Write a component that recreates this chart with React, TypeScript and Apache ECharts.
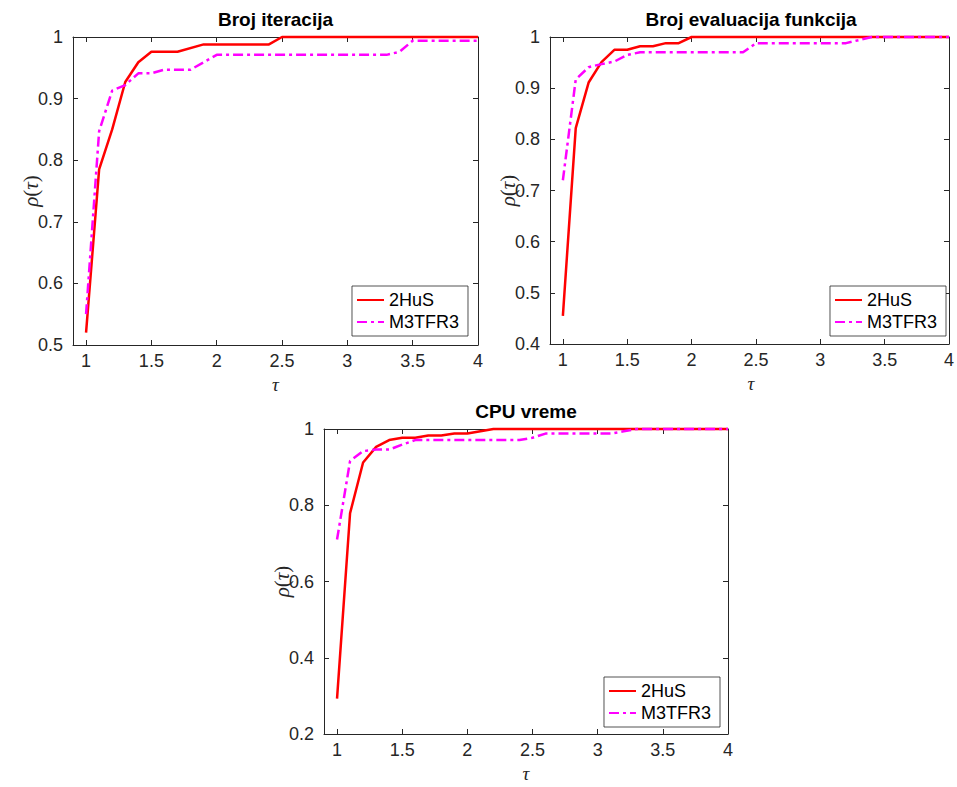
import React, { useEffect, useRef } from "react";
import * as echarts from "echarts";

// ---- data ----
const xTicks = [1, 1.5, 2, 2.5, 3, 3.5, 4];
const seriesNames = ["2HuS", "M3TFR3"];
const titles = ["Broj iteracija", "Broj evaluacija funkcija", "CPU vreme"];

// Chart 1: Broj iteracija
const iterHuSTau = [1, 1.1, 1.2, 1.3, 1.4, 1.5, 1.7, 1.9, 2.4, 2.5, 4];
const iterHuSVal = [0.52, 0.785, 0.85, 0.927, 0.959, 0.976, 0.976, 0.988, 0.988, 1, 1];
const iterM3Tau = [1, 1.1, 1.2, 1.3, 1.4, 1.5, 1.6, 1.8, 2.0, 3.3, 3.4, 3.5, 4];
const iterM3Val = [0.55, 0.847, 0.913, 0.922, 0.941, 0.941, 0.947, 0.947, 0.971, 0.971, 0.976, 0.994, 0.994];

// Chart 2: Broj evaluacija funkcija
const evalHuSTau = [1, 1.1, 1.2, 1.3, 1.4, 1.5, 1.6, 1.7, 1.8, 1.9, 2.0, 4];
const evalHuSVal = [0.455, 0.822, 0.911, 0.951, 0.975, 0.975, 0.982, 0.982, 0.988, 0.988, 1, 1];
const evalM3Tau = [1, 1.1, 1.2, 1.3, 1.4, 1.5, 1.6, 2.4, 2.5, 3.2, 3.3, 3.4, 4];
const evalM3Val = [0.72, 0.917, 0.941, 0.947, 0.952, 0.965, 0.97, 0.97, 0.988, 0.988, 0.994, 1, 1];

// Chart 3: CPU vreme
const cpuHuSTau = [1, 1.1, 1.2, 1.3, 1.4, 1.5, 1.6, 1.7, 1.8, 1.9, 2.0, 2.1, 2.2, 4];
const cpuHuSVal = [0.293, 0.779, 0.912, 0.953, 0.971, 0.977, 0.977, 0.983, 0.983, 0.988, 0.988, 0.994, 1, 1];
const cpuM3Tau = [1, 1.1, 1.2, 1.3, 1.4, 1.5, 1.6, 2.4, 2.5, 2.6, 3.1, 3.2, 3.3, 4];
const cpuM3Val = [0.71, 0.916, 0.942, 0.946, 0.946, 0.959, 0.971, 0.971, 0.977, 0.988, 0.988, 0.994, 1, 1];

const yMins = [0.5, 0.4, 0.2];
const yIntervals = [0.1, 0.1, 0.2];

const panels = [
  { huS: [iterHuSTau, iterHuSVal], m3: [iterM3Tau, iterM3Val] },
  { huS: [evalHuSTau, evalHuSVal], m3: [evalM3Tau, evalM3Val] },
  { huS: [cpuHuSTau, cpuHuSVal], m3: [cpuM3Tau, cpuM3Val] },
];

// ---- layout ----
const grids = [
  { left: 73, top: 37, width: 405, height: 308 },
  { left: 550, top: 37, width: 402, height: 307 },
  { left: 324, top: 429, width: 404, height: 305 },
];
const legendPos = [
  { right: 489, bottom: 451 },
  { right: 11, bottom: 451 },
  { right: 237, bottom: 60 },
];

const AX = "#262626";
const FONT = "Liberation Sans, Arial, Helvetica, sans-serif";
const MATH = '"Liberation Serif", "DejaVu Serif", serif';

const zip = (a: number[], b: number[]) => a.map((t, i) => [t, b[i]]);

export default function App() {
  const ref = useRef<HTMLDivElement>(null);
  useEffect(() => {
    if (!ref.current) return;
    const chart = echarts.init(ref.current, null, { renderer: "svg" });

    const xAxis: any[] = [];
    const yAxis: any[] = [];
    const series: any[] = [];
    const legend: any[] = [];
    const graphic: any[] = [];

    grids.forEach((g, i) => {
      const common = {
        gridIndex: i,
        type: "value",
        splitLine: { show: false },
        axisLine: { show: true, onZero: false, lineStyle: { color: AX, width: 1 } },
        axisTick: { show: true, inside: true, length: 5, lineStyle: { color: AX } },
      };
      xAxis.push({
        ...common,
        position: "bottom",
        min: 0.9,
        max: 4,
        axisTick: { ...common.axisTick, customValues: xTicks },
        axisLabel: { customValues: xTicks, color: AX, fontSize: 18, fontFamily: FONT, margin: 7 },
      });
      xAxis.push({
        ...common,
        position: "top",
        min: 0.9,
        max: 4,
        axisTick: { ...common.axisTick, customValues: xTicks },
        axisLabel: { show: false },
      });
      yAxis.push({
        ...common,
        position: "left",
        min: yMins[i],
        max: 1,
        interval: yIntervals[i],
        axisLabel: { color: AX, fontSize: 18, fontFamily: FONT, margin: 10 },
      });
      yAxis.push({
        ...common,
        position: "right",
        min: yMins[i],
        max: 1,
        interval: yIntervals[i],
        axisLabel: { show: false },
      });

      const p = panels[i];
      series.push({
        name: seriesNames[0],
        type: "line",
        xAxisIndex: i * 2,
        yAxisIndex: i * 2,
        data: zip(p.huS[0], p.huS[1]),
        showSymbol: false,
        symbol: "none",
        clip: false,
        lineStyle: { color: "#ff0000", width: 2.5 },
        itemStyle: { color: "#ff0000" },
      });
      series.push({
        name: seriesNames[1],
        type: "line",
        xAxisIndex: i * 2,
        yAxisIndex: i * 2,
        data: zip(p.m3[0], p.m3[1]),
        showSymbol: false,
        symbol: "none",
        clip: false,
        lineStyle: { color: "#ff00ff", width: 2.5, type: [10, 4, 3, 4] },
        itemStyle: { color: "#ff00ff" },
      });

      legend.push({
        orient: "vertical",
        right: legendPos[i].right,
        bottom: legendPos[i].bottom,
        data: seriesNames,
        selectedMode: false,
        backgroundColor: "#ffffff",
        borderColor: AX,
        borderWidth: 0.8,
        borderRadius: 0,
        padding: [5, 9, 5, 4],
        itemGap: 4,
        itemWidth: 27,
        itemHeight: 14,
        itemStyle: { opacity: 0 },
        textStyle: { fontSize: 18, fontFamily: FONT, color: "#000" },
      });

      const cx = g.left + g.width / 2;
      const cy = g.top + g.height / 2;
      graphic.push({
        type: "text",
        x: cx,
        y: g.top - 18,
        style: {
          text: titles[i],
          fill: "#000",
          font: `bold 19px ${FONT}`,
          textAlign: "center",
          textVerticalAlign: "middle",
        },
      });
      graphic.push({
        type: "text",
        x: cx,
        y: g.top + g.height + 39,
        style: {
          text: "τ",
          fill: AX,
          font: `italic 19px ${MATH}`,
          textAlign: "center",
          textVerticalAlign: "middle",
        },
      });
      graphic.push({
        type: "text",
        x: g.left - 42,
        y: cy,
        rotation: Math.PI / 2,
        style: {
          text: "{i|ρ}{n|(}{i|τ}{n|)}",
          textAlign: "center",
          textVerticalAlign: "middle",
          rich: {
            i: { font: `italic 21px ${MATH}`, fill: AX },
            n: { font: `21px ${MATH}`, fill: AX },
          },
        },
      });
    });

    chart.setOption({
      animation: false,
      backgroundColor: "#ffffff",
      grid: grids.map((g) => ({ ...g, containLabel: false })),
      xAxis,
      yAxis,
      series,
      legend,
      graphic,
    });
    return () => chart.dispose();
  }, []);

  return (
    <div
      ref={ref}
      style={{ position: "fixed", left: 0, top: 0, width: 957, height: 787 }}
    />
  );
}
